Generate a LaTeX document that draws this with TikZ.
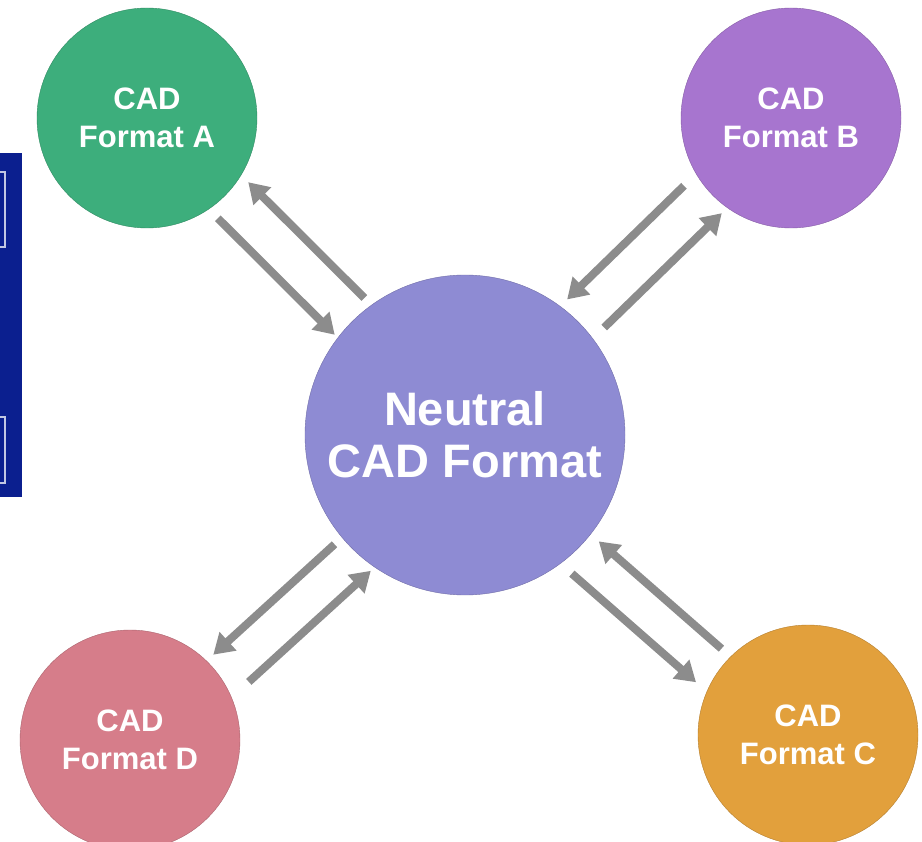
\documentclass[tikz,border=0pt]{standalone}
\usepackage{fontspec}
\setmainfont{Liberation Sans}
\usetikzlibrary{calc,arrows.meta}

\definecolor{fmtgreen}{HTML}{3DAE7C}
\definecolor{fmtpurple}{HTML}{A775CF}
\definecolor{fmtpink}{HTML}{D67D8A}
\definecolor{fmtorange}{HTML}{E2A03C}
\definecolor{neutralblue}{HTML}{8E8BD3}
\definecolor{arrowgray}{HTML}{8C8C8C}
\definecolor{panelblue}{HTML}{0B1F8F}

\begin{document}
\begin{tikzpicture}[x=1pt, y=-1pt]
    % Define styles
    \tikzset{
      format/.style={circle, minimum size=220pt, inner sep=0pt, text=white, align=center,
                     font=\fontsize{31}{38}\selectfont\bfseries},
      neutral/.style={format, minimum size=320pt, font=\fontsize{47}{52}\selectfont\bfseries},
      flow/.style={draw=arrowgray, line width=8pt, -{Triangle[width=24pt,length=20pt]}}
    }
    \useasboundingbox (0,0) rectangle (922,842);
    \clip (0,0) rectangle (922,842);

    % Blue panel on the left edge
    \fill [panelblue] (0,153) rectangle (22,497);
    \draw [white!75!panelblue, line width=1.5pt] (-10,172) rectangle (5,247);
    \draw [white!75!panelblue, line width=1.5pt] (-10,417) rectangle (5,483);

    % Nodes
    \node [neutral, fill=neutralblue, draw=neutralblue!80!black] (N) at (465,435) {Neutral\\CAD Format};
    \node [format, fill=fmtgreen, draw=fmtgreen!80!black] (A) at (147,118) {CAD\\Format A};
    \node [format, fill=fmtpurple, draw=fmtpurple!80!black] (B) at (791,118) {CAD\\Format B};
    \node [format, fill=fmtorange, draw=fmtorange!80!black] (C) at (808,735) {CAD\\Format C};
    \node [format, fill=fmtpink, draw=fmtpink!80!black] (D) at (130,740) {CAD\\Format D};

    % Arrows
    \draw [flow] ($(A.center)!121pt!(N.center)!21pt!-90:(N.center)$) -- ($(A.center)!286pt!(N.center)!21pt!-90:(N.center)$);
    \draw [flow] ($(A.center)!281pt!(N.center)!26pt!90:(N.center)$) -- ($(A.center)!117pt!(N.center)!26pt!90:(N.center)$);
    \draw [flow] ($(B.center)!124pt!(N.center)!26pt!-90:(N.center)$) -- ($(B.center)!287pt!(N.center)!26pt!-90:(N.center)$);
    \draw [flow] ($(B.center)!280pt!(N.center)!20pt!90:(N.center)$) -- ($(B.center)!116pt!(N.center)!20pt!90:(N.center)$);
    \draw [flow] ($(C.center)!122pt!(N.center)!8pt!-90:(N.center)$) -- ($(C.center)!285pt!(N.center)!8pt!-90:(N.center)$);
    \draw [flow] ($(C.center)!284pt!(N.center)!34pt!90:(N.center)$) -- ($(C.center)!119pt!(N.center)!34pt!90:(N.center)$);
    \draw [flow] ($(D.center)!127pt!(N.center)!37pt!-90:(N.center)$) -- ($(D.center)!292pt!(N.center)!37pt!-90:(N.center)$);
    \draw [flow] ($(D.center)!283pt!(N.center)!7pt!90:(N.center)$) -- ($(D.center)!119pt!(N.center)!7pt!90:(N.center)$);
\end{tikzpicture}
\end{document}
